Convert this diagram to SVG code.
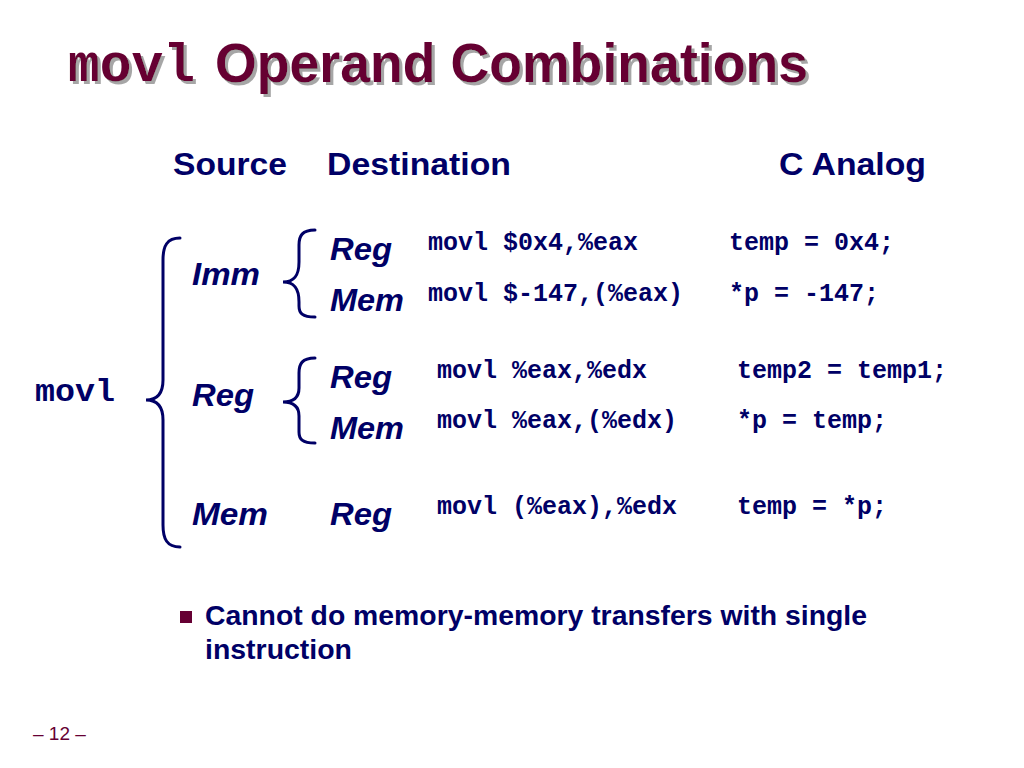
<svg xmlns="http://www.w3.org/2000/svg" width="1024" height="768" viewBox="0 0 1024 768">
<defs>
  <filter id="tshadow" x="-5%" y="-20%" width="115%" height="150%">
    <feOffset in="SourceAlpha" dx="3" dy="3" result="off"/>
    <feFlood flood-color="#a6a6a6"/>
    <feComposite in2="off" operator="in" result="sh"/>
    <feMerge><feMergeNode in="sh"/><feMergeNode in="SourceGraphic"/></feMerge>
  </filter>
</defs>
<style>
.title{font-family:"Liberation Sans",Arial,sans-serif;font-weight:bold;font-size:55px;fill:#660033}
.tmono{font-family:"Liberation Mono","Courier New",monospace;font-weight:bold;font-size:53px;fill:#660033}
.hdr{font-family:"Liberation Sans",Arial,sans-serif;font-weight:bold;font-size:32px;fill:#000066}
.lbl{font-family:"Liberation Sans",Arial,sans-serif;font-weight:bold;font-style:italic;font-size:31px;fill:#000066}
.code{font-family:"Liberation Mono","Courier New",monospace;font-weight:bold;font-size:25px;fill:#000066}
.big{font-family:"Liberation Mono","Courier New",monospace;font-weight:bold;font-size:32px;fill:#000066}
.body{font-family:"Liberation Sans",Arial,sans-serif;font-weight:bold;font-size:27px;fill:#000066}
.foot{font-family:"Liberation Sans",Arial,sans-serif;font-size:19px;fill:#660033}
.brace{fill:none;stroke:#000066;stroke-width:3;stroke-linecap:round}
</style>
<rect width="1024" height="768" fill="#ffffff"/>
<g id="title" filter="url(#tshadow)">
  <text class="tmono" x="68" y="81" textLength="127" lengthAdjust="spacingAndGlyphs">movl</text>
  <text class="title" x="215" y="82" textLength="593" lengthAdjust="spacingAndGlyphs">Operand Combinations</text>
</g>
<g id="headers">
  <text class="hdr" x="173" y="175" textLength="114" lengthAdjust="spacingAndGlyphs">Source</text>
  <text class="hdr" x="327" y="175" textLength="184" lengthAdjust="spacingAndGlyphs">Destination</text>
  <text class="hdr" x="779" y="175" textLength="147" lengthAdjust="spacingAndGlyphs">C Analog</text>
</g>
<g id="root">
  <text class="big" x="35" y="401" textLength="80" lengthAdjust="spacingAndGlyphs">movl</text>
</g>
<g id="src-imm">
  <text class="lbl" x="192" y="285" textLength="68" lengthAdjust="spacingAndGlyphs">Imm</text>
</g>
<g id="src-reg">
  <text class="lbl" x="192" y="406" textLength="62" lengthAdjust="spacingAndGlyphs">Reg</text>
</g>
<g id="src-mem">
  <text class="lbl" x="192" y="525" textLength="76" lengthAdjust="spacingAndGlyphs">Mem</text>
</g>
<g id="row1">
  <text class="lbl" x="330" y="260" textLength="62" lengthAdjust="spacingAndGlyphs">Reg</text>
  <text class="code" x="428" y="250">movl $0x4,%eax</text>
  <text class="code" x="729" y="250">temp = 0x4;</text>
</g>
<g id="row2">
  <text class="lbl" x="330" y="311" textLength="74" lengthAdjust="spacingAndGlyphs">Mem</text>
  <text class="code" x="428" y="301">movl $-147,(%eax)</text>
  <text class="code" x="729" y="301">*p = -147;</text>
</g>
<g id="row3">
  <text class="lbl" x="330" y="388" textLength="62" lengthAdjust="spacingAndGlyphs">Reg</text>
  <text class="code" x="437" y="378">movl %eax,%edx</text>
  <text class="code" x="737" y="378">temp2 = temp1;</text>
</g>
<g id="row4">
  <text class="lbl" x="330" y="439" textLength="74" lengthAdjust="spacingAndGlyphs">Mem</text>
  <text class="code" x="437" y="428">movl %eax,(%edx)</text>
  <text class="code" x="737" y="428">*p = temp;</text>
</g>
<g id="row5">
  <text class="lbl" x="330" y="525" textLength="62" lengthAdjust="spacingAndGlyphs">Reg</text>
  <text class="code" x="437" y="514">movl (%eax),%edx</text>
  <text class="code" x="737" y="514">temp = *p;</text>
</g>
<g id="connectors">
  <path class="brace" d="M180,238 C167,238 163,246 163,260 L163,380 C163,394 157,400 146,400 C157,400 163,406 163,420 L163,525 C163,539 167,547 180,547"/>
  <path class="brace" d="M315,230 C302,230 299,236 299,245 L299,262 C299,276 294,282 283,282 C294,282 299,288 299,302 L299,306 C299,313 302,317 315,317"/>
  <path class="brace" d="M315,358 C302,358 299,364 299,373 L299,388 C299,397 294,402 283,402 C294,402 299,407 299,416 L299,432 C299,439 302,443 315,443"/>
</g>
<g id="note">
  <rect x="180" y="611" width="12" height="12" fill="#660033"/>
  <text class="body" x="205" y="625" textLength="662" lengthAdjust="spacingAndGlyphs">Cannot do memory-memory transfers with single</text>
  <text class="body" x="205" y="659" textLength="147" lengthAdjust="spacingAndGlyphs">instruction</text>
</g>
<g id="footer">
  <text class="foot" x="33" y="740">– 12 –</text>
</g>
</svg>
